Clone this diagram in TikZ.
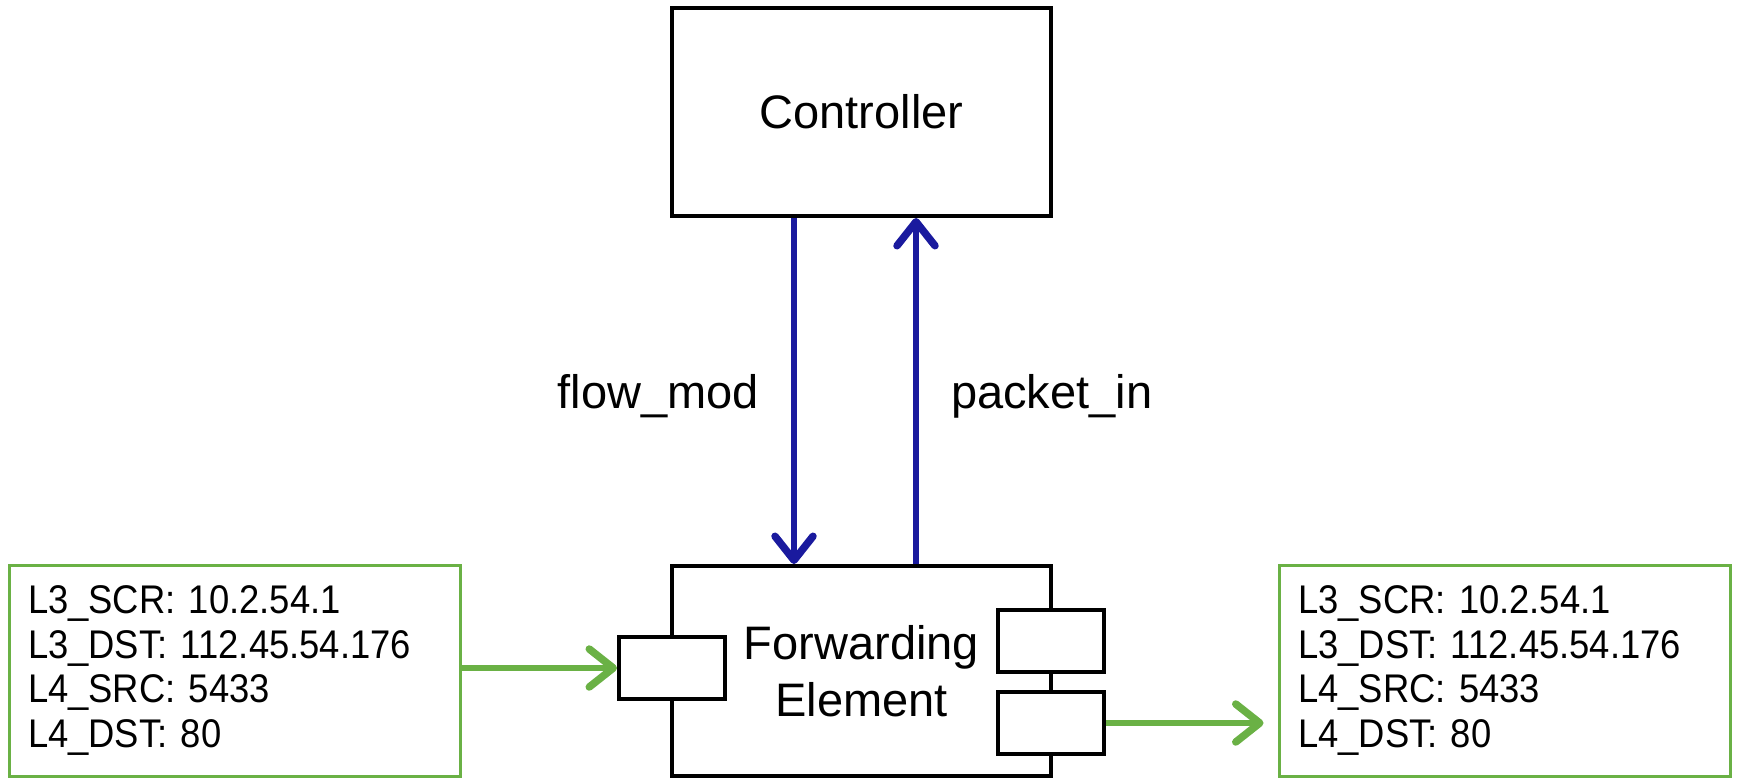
\documentclass[tikz,border=0pt]{standalone}
\usepackage{fontspec}
\setmainfont{Liberation Sans}
\newfontfamily\hdrfont[FakeStretch=0.91]{Liberation Sans}
\usetikzlibrary{arrows.meta, positioning}

\definecolor{msgblue}{RGB}{26,26,158}
\definecolor{pktgreen}{RGB}{106,177,69}

\begin{document}
\begin{tikzpicture}[x=0.5pt, y=-0.5pt,
    bigbox/.style={draw, line width=2pt, fill=white, inner sep=0pt, align=center,
        font=\fontsize{23.5}{28.2}\selectfont},
    port/.style={draw, line width=2pt, fill=white, inner sep=0pt,
        minimum width=53pt, minimum height=31pt},
    hdrbox/.style={draw=pktgreen, line width=1.5pt, inner xsep=9.5pt,
        minimum width=225.5pt, minimum height=105.5pt, text width=206.5pt, align=left,
        font=\hdrfont\fontsize{20}{22.3}\selectfont},
    msg/.style={msgblue, line width=3pt,
        -{Straight Barb[length=12pt, width=19pt, line width=0pt 1.25, line cap=round, line join=round]}},
    flow/.style={pktgreen, line width=3pt,
        -{Straight Barb[length=12pt, width=19pt, line width=0pt 1.25, line cap=round, line join=round]}},
    lbl/.style={black, inner sep=0pt, yshift=-2.5pt, font=\fontsize{23.5}{28.2}\selectfont}]

    \useasboundingbox (0,0) rectangle (1738,778);

    % Controller and forwarding element
    \node[bigbox, minimum width=189.5pt, minimum height=104pt] (ctrl) at (861.5,112) {Controller};
    \node[bigbox, minimum width=189.5pt, minimum height=105pt] (fwd) at (861.5,671) {Forwarding\\Element};

    % Ports
    \node[port] (inport) at (672,668) {};
    \node[port] (outtop) at (1051,641) {};
    \node[port] (outbot) at (1051,723) {};

    % Packet headers
    \node[hdrbox] (inhdr) at (234.5,670.5) {L3\_SCR: 10.2.54.1\\L3\_DST: 112.45.54.176\\L4\_SRC: 5433\\L4\_DST: 80};
    \node[hdrbox] (outhdr) at (1504.5,670.5) {L3\_SCR: 10.2.54.1\\L3\_DST: 112.45.54.176\\L4\_SRC: 5433\\L4\_DST: 80};

    % Control messages
    \draw[msg] ([xshift=-33.75pt]ctrl.south) -- ([xshift=-33.75pt]fwd.north)
        node[midway, left=16pt, lbl] (fmlbl) {flow\_mod};
    \draw[msg] ([xshift=27.25pt]fwd.north) -- ([xshift=27.25pt]ctrl.south)
        node[midway, right=16pt, lbl] (pilbl) {packet\_in};

    % Packet path
    \draw[flow] (inhdr.east |- inport) -- (inport.west);
    \draw[flow, shorten >=7pt] (outbot.east) -- (outhdr.west |- outbot);
\end{tikzpicture}
\end{document}
